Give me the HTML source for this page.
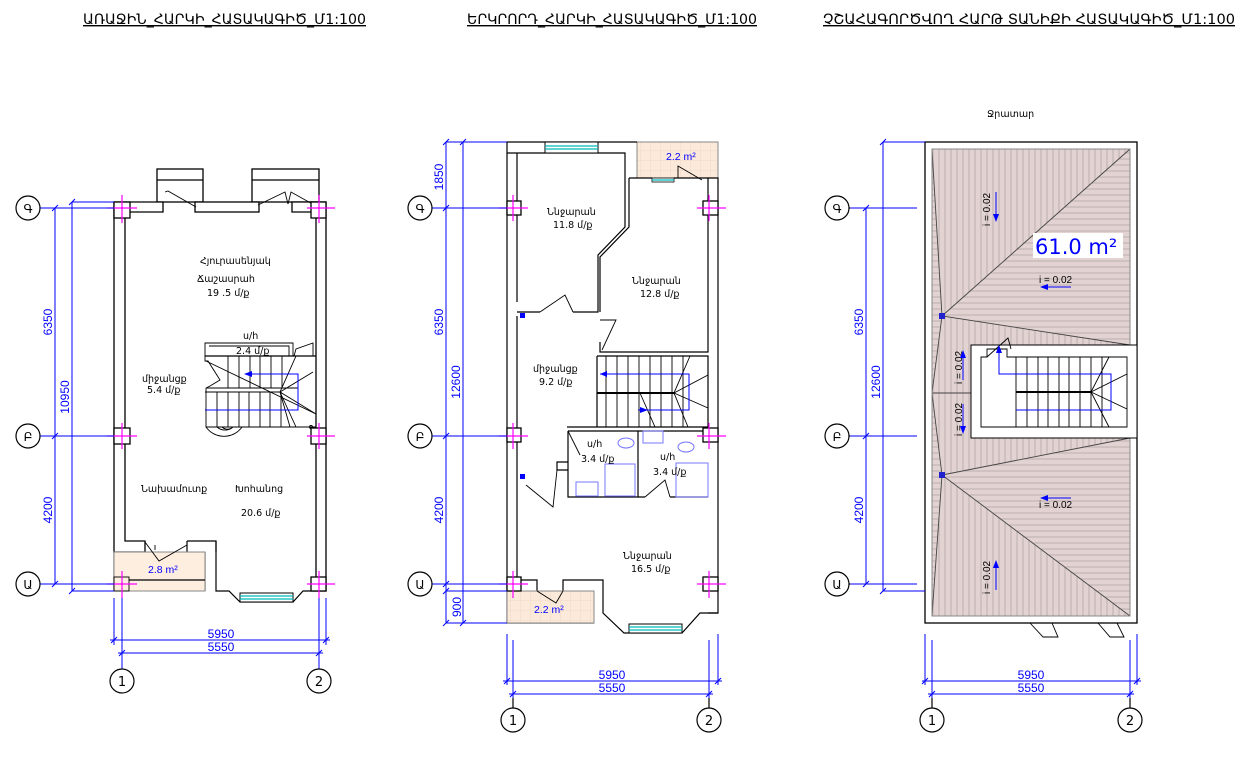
<!DOCTYPE html>
<html><head><meta charset="utf-8"><style>
html,body{margin:0;padding:0;background:#fff;width:1250px;height:778px;overflow:hidden}
svg{display:block}
text{font-family:"DejaVu Sans","Liberation Sans",sans-serif}
.w{fill:#fff;stroke:#000;stroke-width:1.3}
.l{stroke:#000;stroke-width:1.2;fill:none}
.t{stroke:#000;stroke-width:0.9;fill:none}
.d{stroke:#0000ff;stroke-width:1;fill:none}
.m{stroke:#ff00ff;stroke-width:1.2}
.bl{fill:#0000ff;font-size:12px;font-family:"Liberation Sans",sans-serif}
.sm{fill:#0000ff;font-size:10.5px;font-family:"Liberation Sans",sans-serif}
.ii{fill:#000;font-size:10px;font-family:"Liberation Sans",sans-serif}
.rm{font-size:9.5px;fill:#000}
.ti{font-size:14px;fill:#000;text-decoration:underline}
.ax{fill:#fff;stroke:#000;stroke-width:1.2}
</style></head><body>
<svg width="1250" height="778" viewBox="0 0 1250 778" xmlns="http://www.w3.org/2000/svg">
<defs>
<pattern id="pv" width="6" height="6" patternUnits="userSpaceOnUse"><rect width="6" height="6" fill="#e2d2d2"/><line x1="3" y1="0" x2="3" y2="6" stroke="#a89a9a" stroke-width="0.6"/></pattern>
<pattern id="ph" width="6" height="6" patternUnits="userSpaceOnUse"><rect width="6" height="6" fill="#e2d2d2"/><line x1="0" y1="3" x2="6" y2="3" stroke="#a89a9a" stroke-width="0.6"/></pattern>
<pattern id="tile" width="10" height="10" patternUnits="userSpaceOnUse"><rect width="10" height="10" fill="#fbe9da"/><path d="M0 0H10M0 0V10" stroke="#efd6c2" stroke-width="0.8"/></pattern>
</defs>

<text x="83" y="24" class="ti" textLength="283" lengthAdjust="spacingAndGlyphs">ԱՌԱՋԻՆ_ՀԱՐԿԻ_ՀԱՏԱԿԱԳԻԾ_Մ1:100</text>
<text x="467" y="24" class="ti" textLength="290" lengthAdjust="spacingAndGlyphs">ԵՐԿՐՈՐԴ_ՀԱՐԿԻ_ՀԱՏԱԿԱԳԻԾ_Մ1:100</text>
<text x="823" y="24" class="ti" textLength="412" lengthAdjust="spacingAndGlyphs">ՉՇԱՀԱԳՈՐԾՎՈՂ ՀԱՐԹ ՏԱՆԻՔԻ ՀԱՏԱԿԱԳԻԾ_Մ1:100</text>

<!-- ============ PLAN 1 ============ -->
<g>
<rect x="157" y="169" width="46" height="33" class="w"/><line x1="157" y1="180" x2="203" y2="180" class="l"/>
<rect x="252" y="169" width="67" height="33" class="w"/><line x1="252" y1="180" x2="319" y2="180" class="l"/>
<path d="M114 202H163V212H125V541H145V552H114Z" class="w"/>
<rect x="195" y="202" width="64" height="10" class="w"/>
<path d="M292 202H326V591H316V212H292Z" class="w"/>
<line x1="114" y1="552" x2="114" y2="591" class="l"/>
<path d="M187 541H216V591L229 591L240 602H293L303 591H316" class="l"/>
<path d="M187 541V552M216 541V552" class="l"/>
<path d="M205 552V591" class="l"/>
<path d="M165 192L168 191L196 207M258 205L285 192L288 204L291 192L316 206" class="t"/>
<rect x="114" y="552" width="91" height="39" fill="#fdeee0" stroke="#888" stroke-width="1"/>
<line x1="129" y1="580" x2="205" y2="580" class="l"/>
<rect x="114" y="577" width="15" height="14" class="t"/>
<path d="M145 542L159 561L187 545M155 545V550" class="t"/>
<text x="148" y="573" class="sm">2.8 m²</text>
<rect x="240" y="593" width="53" height="9" fill="#fff" stroke="#000" stroke-width="1"/>
<line x1="240" y1="596" x2="293" y2="596" stroke="#0bb" stroke-width="1.2"/><line x1="240" y1="599" x2="293" y2="599" stroke="#0bb" stroke-width="1.2"/>
<path d="M205 343H293V356H205Z" class="t"/><path d="M209 346H289V356" class="t"/>
<path d="M294 356L296 349L313 343V356" class="t"/>
<line x1="205" y1="356" x2="316" y2="356" class="l"/>
<path d="M205 356V361H208L220 380L210 386L206 388H298M206 388V427H316" class="t"/>
<path d="M206 361L316 414M205 392H280" class="t"/>
<g class="t"><path d="M228 356V388M239 356V388M250 356V388M260 356V388M271 356V388M282 356V388"/>
<path d="M217 392V427M228 392V427M239 392V427M249 392V427M260 392V427M270 392V427M281 392V427"/>
<path d="M280 392L296 356M280 392L313 372M280 392L316 414M280 392L296 427M280 392L290 427"/>
<path d="M206 427A22 22 0 0 0 242 427M217 427A12 12 0 0 0 233 427M222 427A8 8 0 0 0 233 427"/></g>
<path d="M248 374H298V410H205" class="d"/><path d="M244 374L252 371V377Z" fill="#00f"/>
<circle cx="311" cy="427" r="1.5" class="t"/>
<g class="w"><rect x="114" y="202" width="16" height="16"/><rect x="311" y="202" width="15" height="16"/><rect x="114" y="428" width="16" height="16"/><rect x="311" y="428" width="15" height="16"/><rect x="311" y="577" width="15" height="14"/></g>
<g class="m"><path d="M107 208H137M122 195V223M307 208H335M319 195V223M107 436H137M122 423V449M307 436H335M319 423V449M107 584H137M122 571V598M307 584H335M319 571V598"/></g>
<text x="200" y="264" class="rm">Հյուրասենյակ</text><text x="197" y="282" class="rm">Ճաշասրահ</text><text x="207" y="296" class="rm">19 .5 մ/ք</text>
<text x="243" y="339" class="rm">ս/հ</text><text x="236" y="354" class="rm">2.4 մ/ք</text>
<text x="142" y="382" class="rm">միջանցք</text><text x="147" y="393" class="rm">5.4 մ/ք</text>
<text x="141" y="492" class="rm">Նախամուտք</text><text x="235" y="492" class="rm">Խոհանոց</text><text x="241" y="516" class="rm">20.6 մ/ք</text>
<g class="d"><path d="M40 208H114M40 436H114M40 584H114M72 202H114M72 591H114M55 208V584M72 202V591M114 598V645M122 598V665M326 598V645M319 598V665M110 640H330M118 653H323M122 665V669M319 665V669"/>
<path d="M52 211L58 205M52 439L58 433M52 587L58 581M69 205L75 199M69 594L75 588M111 643L117 637M323 643L329 637M119 656L125 650M316 656L322 650"/></g>
<text class="bl" transform="translate(52 322) rotate(-90)" text-anchor="middle">6350</text>
<text class="bl" transform="translate(69 397) rotate(-90)" text-anchor="middle">10950</text>
<text class="bl" transform="translate(52 510) rotate(-90)" text-anchor="middle">4200</text>
<text x="221" y="638" class="bl" text-anchor="middle">5950</text><text x="221" y="651" class="bl" text-anchor="middle">5550</text>
<path d="M40 208H28M40 436H28M40 584H28" class="l"/>
<circle cx="28" cy="208" r="12" class="ax"/><circle cx="28" cy="436" r="12" class="ax"/><circle cx="28" cy="584" r="12" class="ax"/>
<text x="28" y="213" text-anchor="middle" font-size="12">Գ</text><text x="28" y="441" text-anchor="middle" font-size="12">Բ</text><text x="28" y="589" text-anchor="middle" font-size="12">Ա</text>
<path d="M122 669V681M319 669V681" class="l"/>
<circle cx="122" cy="681" r="12" class="ax"/><circle cx="319" cy="681" r="12" class="ax"/>
<text x="122" y="686" text-anchor="middle" font-size="13" font-family="Liberation Sans">1</text><text x="319" y="686" text-anchor="middle" font-size="13" font-family="Liberation Sans">2</text>
</g>

<!-- ============ PLAN 2 ============ -->
<g>
<rect x="637" y="142" width="81" height="36" fill="url(#tile)" stroke="#888"/>
<text x="666" y="160" class="sm">2.2 m²</text>
<path d="M507 142H637M507 142V623H594M517 153V302M517 316V587M507 153H517" class="l"/>
<path d="M517 153H625V227L598 255V312H573M540 312H517" class="l"/>
<path d="M629 178V227L600 257V312M629 178H652M674 178H708V352H600V342" class="l"/>
<path d="M708 178L718 178V613H708" class="l"/>
<rect x="545" y="142" width="53" height="11" fill="#fff" stroke="#000"/>
<line x1="545" y1="146" x2="598" y2="146" stroke="#0bb" stroke-width="1.2"/><line x1="545" y1="149" x2="598" y2="149" stroke="#0bb" stroke-width="1.2"/>
<rect x="652" y="178" width="22" height="4" fill="#fff" stroke="#000" stroke-width="0.8"/><line x1="652" y1="180" x2="674" y2="180" stroke="#0bb" stroke-width="1.2"/>
<path d="M678 178L678 166L702 180" class="t"/>
<path d="M540 312L565 295L573 312M600 320L616 320L602 350" class="t"/>
<path d="M597 356H708V427M597 356V427" class="l"/>
<g class="t"><path d="M606 356V427M617 356V427M628 356V427M639 356V427M650 356V427M661 356V427M672 356V427M683 356V427"/>
<path d="M597 393H674" stroke-width="2"/><path d="M674 393L690 356M674 393L708 375M674 393L708 408M674 393L688 427M640 393L655 427"/></g>
<path d="M600 374H689V410H638" class="d"/><path d="M600 374L607 371V377Z" fill="#00f"/><path d="M648 410L640 407V413Z" fill="#00f"/>
<path d="M567 427H708M568 431H708M568 431V497H645M670 497H708M638 431V497M568 462H557V470L568 470" class="l"/>
<path d="M568 431L580 455" class="t"/><path d="M557 470L553 507L526 485" class="t"/>
<path d="M645 497L665 480L670 497" class="t"/>
<g stroke="#77f" fill="none" stroke-width="1"><ellipse cx="626" cy="443" rx="8" ry="5"/><rect x="605" y="464" width="30" height="32"/><rect x="576" y="482" width="22" height="14"/><rect x="643" y="431" width="20" height="12"/><ellipse cx="686" cy="447" rx="8" ry="5"/><rect x="676" y="463" width="32" height="34"/></g>
<rect x="520" y="313" width="5" height="5" fill="#00f"/><rect x="520" y="474" width="5" height="5" fill="#00f"/>
<path d="M517 580H537V591M563 591V580H603V613L624 633H682L700 613H718" class="l"/>
<rect x="507" y="591" width="87" height="32" fill="url(#tile)" stroke="#888"/>
<text x="534" y="613" class="sm">2.2 m²</text>
<path d="M537 591L556 603L563 591" class="t"/>
<rect x="629" y="624" width="53" height="9" fill="#fff" stroke="#000"/>
<line x1="629" y1="627" x2="682" y2="627" stroke="#0bb" stroke-width="1.2"/><line x1="629" y1="630" x2="682" y2="630" stroke="#0bb" stroke-width="1.2"/>
<g class="w"><rect x="507" y="201" width="14" height="14"/><rect x="703" y="201" width="15" height="14"/><rect x="507" y="428" width="14" height="14"/><rect x="703" y="428" width="15" height="14"/><rect x="507" y="577" width="14" height="14"/><rect x="703" y="577" width="15" height="14"/></g>
<g class="m"><path d="M499 208H528M513 195V221M697 208H726M709 195V221M499 436H528M513 423V449M697 436H726M709 423V449M499 584H528M513 571V598M697 584H726M709 571V598"/></g>
<text x="547" y="215" class="rm">Ննջարան</text><text x="553" y="228" class="rm">11.8 մ/ք</text>
<text x="632" y="284" class="rm">Ննջարան</text><text x="640" y="297" class="rm">12.8 մ/ք</text>
<text x="533" y="372" class="rm">միջանցք</text><text x="539" y="385" class="rm">9.2 մ/ք</text>
<text x="587" y="447" class="rm">ս/հ</text><text x="581" y="462" class="rm">3.4 մ/ք</text>
<text x="660" y="460" class="rm">ս/հ</text><text x="653" y="475" class="rm">3.4 մ/ք</text>
<text x="623" y="559" class="rm">Ննջարան</text><text x="631" y="572" class="rm">16.5 մ/ք</text>
<g class="d"><path d="M432 208H507M432 436H507M432 584H507M446 142H507M446 591H507M446 623H507M463 142V623M446 142V623M507 634V685M513 640V698M718 634V685M709 640V698M503 681H722M509 694H713"/>
<path d="M443 145L449 139M443 211L449 205M443 439L449 433M443 587L449 581M443 594L449 588M443 626L449 620M460 145L466 139M460 626L466 620M504 684L510 678M715 684L721 678M510 697L516 691M706 697L712 691"/></g>
<text class="bl" transform="translate(443 177) rotate(-90)" text-anchor="middle">1850</text>
<text class="bl" transform="translate(443 322) rotate(-90)" text-anchor="middle">6350</text>
<text class="bl" transform="translate(460 382) rotate(-90)" text-anchor="middle">12600</text>
<text class="bl" transform="translate(443 510) rotate(-90)" text-anchor="middle">4200</text>
<text class="bl" transform="translate(461 607) rotate(-90)" text-anchor="middle">900</text>
<text x="612" y="679" class="bl" text-anchor="middle">5950</text><text x="612" y="692" class="bl" text-anchor="middle">5550</text>
<path d="M432 208H424M432 436H424M432 584H424" class="l"/>
<circle cx="420" cy="208" r="12" class="ax"/><circle cx="420" cy="436" r="12" class="ax"/><circle cx="420" cy="584" r="12" class="ax"/>
<text x="420" y="213" text-anchor="middle" font-size="12">Գ</text><text x="420" y="441" text-anchor="middle" font-size="12">Բ</text><text x="420" y="589" text-anchor="middle" font-size="12">Ա</text>
<path d="M513 698V708M709 698V708" class="l"/>
<circle cx="513" cy="720" r="12" class="ax"/><circle cx="709" cy="720" r="12" class="ax"/>
<text x="513" y="725" text-anchor="middle" font-size="13" font-family="Liberation Sans">1</text><text x="709" y="725" text-anchor="middle" font-size="13" font-family="Liberation Sans">2</text>
</g>

<!-- ============ ROOF ============ -->
<g>
<text x="987" y="117" class="rm" font-size="9">Ջրատար</text>
<rect x="925" y="142" width="212" height="481" fill="#fff" stroke="#000" stroke-width="1.3"/>
<path d="M932 149H1130L942 316Z" fill="url(#pv)"/>
<path d="M1130 149V345L942 316Z" fill="url(#ph)"/>
<path d="M942 316L1130 345H971V438H1130L942 475L932 393Z" fill="url(#pv)"/>
<path d="M942 475L1130 438V616Z" fill="url(#ph)"/>
<path d="M942 475L1130 616H932Z" fill="url(#pv)"/>
<path d="M932 149L942 316L932 393L942 475L932 616Z" fill="url(#ph)"/>
<path d="M932 149L942 316L932 393L942 475L932 616M1130 149L942 316L1130 345M1130 438L942 475L1130 616M932 393H971" stroke="#444" stroke-width="0.9" fill="none"/>
<rect x="932" y="149" width="198" height="467" fill="none" stroke="#888" stroke-width="1"/>
<rect x="939" y="313" width="6" height="6" fill="#22c"/><rect x="939" y="472" width="6" height="6" fill="#22c"/>
<rect x="971" y="345" width="166" height="93" fill="#fff" stroke="#000" stroke-width="1"/>
<path d="M981 357H987V349H1007V357H1127V427H981Z" class="t"/>
<path d="M987 357L1008 338L1011 349" class="t"/>
<g class="t"><path d="M1016 357V427M1027 357V427M1038 357V427M1048 357V427M1059 357V427M1069 357V427M1080 357V427M1091 357V427M1102 357V427"/>
<path d="M1016 392H1091" stroke-width="2"/><path d="M1091 392L1109 357M1091 392L1127 374M1091 392L1127 409M1091 392L1109 427"/></g>
<path d="M999 347V374H1111V410H1016" class="d"/><path d="M999 345L996 353H1002Z" fill="#00f"/>
<rect x="1033" y="233" width="90" height="25" fill="#fff"/>
<text x="1035" y="254" fill="#0000ff" font-size="21" font-family="Liberation Sans">61.0 m²</text>
<text class="ii" transform="translate(990 226) rotate(-90)">i = 0.02</text>
<text class="ii" transform="translate(962 384) rotate(-90)">i = 0.02</text><text class="ii" transform="translate(962 436) rotate(-90)">i = 0.02</text>
<text class="ii" transform="translate(990 594) rotate(-90)">i = 0.02</text>
<text x="1039" y="283" class="ii">i = 0.02</text><text x="1039" y="508" class="ii">i = 0.02</text>
<g class="d"><path d="M996 192V220M963 352V380M963 404V432M996 562V590M1042 287H1071M1042 498H1071"/></g>
<g fill="#00f"><path d="M996 222L993 214H999Z"/><path d="M963 350L960 358H966Z"/><path d="M963 434L960 426H966Z"/><path d="M996 560L993 568H999Z"/><path d="M1040 287L1048 284V290Z"/><path d="M1040 498L1048 495V501Z"/></g>
<path d="M1030 623L1043 637H1058L1052 623M1098 623L1110 637H1124L1117 623" class="t"/>
<g class="d"><path d="M850 208H917M850 436H917M850 584H917M883 142H925M883 591H925M866 208V584M883 142V591M925 634V685M932 640V698M1137 634V685M1130 640V698M922 681H1141M928 694H1134"/>
<path d="M863 211L869 205M863 439L869 433M863 587L869 581M880 145L886 139M880 594L886 588M922 684L928 678M1134 684L1140 678M929 697L935 691M1127 697L1133 691"/></g>
<text class="bl" transform="translate(863 322) rotate(-90)" text-anchor="middle">6350</text>
<text class="bl" transform="translate(880 382) rotate(-90)" text-anchor="middle">12600</text>
<text class="bl" transform="translate(863 510) rotate(-90)" text-anchor="middle">4200</text>
<text x="1031" y="679" class="bl" text-anchor="middle">5950</text><text x="1031" y="692" class="bl" text-anchor="middle">5550</text>
<path d="M850 208H844M850 436H844M850 584H844" class="l"/>
<circle cx="837" cy="208" r="12" class="ax"/><circle cx="837" cy="436" r="12" class="ax"/><circle cx="837" cy="584" r="12" class="ax"/>
<text x="837" y="213" text-anchor="middle" font-size="12">Գ</text><text x="837" y="441" text-anchor="middle" font-size="12">Բ</text><text x="837" y="589" text-anchor="middle" font-size="12">Ա</text>
<path d="M932 698V708M1130 698V708" class="l"/>
<circle cx="932" cy="720" r="12" class="ax"/><circle cx="1130" cy="720" r="12" class="ax"/>
<text x="932" y="725" text-anchor="middle" font-size="13" font-family="Liberation Sans">1</text><text x="1130" y="725" text-anchor="middle" font-size="13" font-family="Liberation Sans">2</text>
</g>
</svg>
</body></html>
